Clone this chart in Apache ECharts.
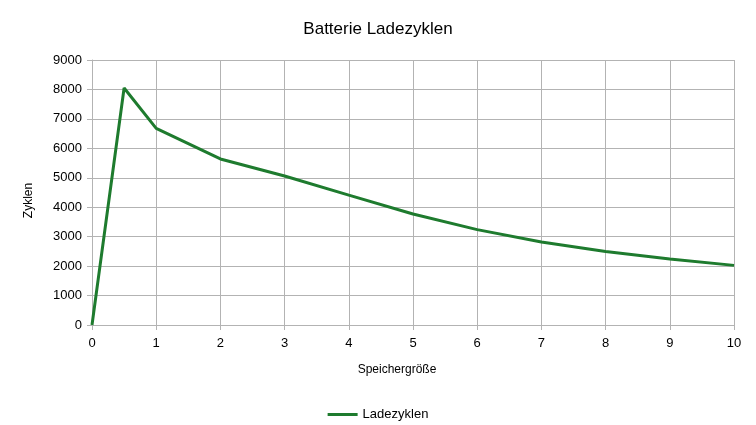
<!DOCTYPE html>
<html>
<head>
<meta charset="utf-8">
<script src="https://cdn.jsdelivr.net/npm/echarts@6/dist/echarts.min.js"></script>
<style>html,body{margin:0;padding:0;background:#fff}#c{width:756px;height:425px}</style>
</head>
<body>
<div id="c"></div>
<script>
const xValues = [0, 0.5, 1, 2, 3, 4, 5, 6, 7, 8, 9, 10];
const cycles = [0, 8050, 6680, 5640, 5060, 4410, 3770, 3240, 2820, 2495, 2240, 2025];
const seriesName = 'Ladezyklen';
const titleText = 'Batterie Ladezyklen';
const xAxisName = 'Speichergröße';
const yAxisName = 'Zyklen';

const chart = echarts.init(document.getElementById('c'), null, {renderer: 'canvas'});
const gridColor = '#b3b3b3';
const font = '"Liberation Sans", Arial, sans-serif';
chart.setOption({
  animation: false,
  textStyle: {fontFamily: font},
  title: {text: titleText, left: 'center', top: 16, textStyle: {fontFamily: font, fontSize: 17, fontWeight: 'normal', color: '#000'}},
  grid: {left: 92, right: 22, top: 60, bottom: 100},
  legend: {top: 403, left: 'center', icon: 'rect', itemWidth: 30, itemHeight: 3, itemGap: 5,
    textStyle: {fontFamily: font, fontSize: 13, color: '#000'}, data: [seriesName]},
  xAxis: {type: 'value', min: 0, max: 10, interval: 1,
    name: xAxisName, nameLocation: 'middle', nameGap: 39,
    nameTextStyle: {fontFamily: font, fontSize: 12, color: '#000', padding: [0, 32, 0, 0]},
    axisLine: {show: true, onZero: false, lineStyle: {color: gridColor}},
    axisTick: {show: true, length: 5, lineStyle: {color: gridColor}},
    axisLabel: {fontFamily: font, fontSize: 13, color: '#000', margin: 12},
    splitLine: {show: true, lineStyle: {color: gridColor, width: 1}}},
  yAxis: {type: 'value', min: 0, max: 9000, interval: 1000,
    name: yAxisName, nameLocation: 'middle', nameGap: 57, nameRotate: 90,
    nameTextStyle: {fontFamily: font, fontSize: 12, color: '#000', padding: [0, 16, 0, 0]},
    axisLine: {show: true, lineStyle: {color: gridColor}},
    axisTick: {show: true, length: 5, lineStyle: {color: gridColor}},
    axisLabel: {fontFamily: font, fontSize: 13, color: '#000', margin: 10, formatter: v => String(v)},
    splitLine: {show: true, lineStyle: {color: gridColor, width: 1}}},
  series: [{
    name: seriesName, type: 'line',
    data: xValues.map((x, i) => [x, cycles[i]]),
    symbol: 'none', smooth: false,
    lineStyle: {color: '#1e7b2e', width: 3},
    itemStyle: {color: '#1e7b2e'}
  }]
});
</script>
</body>
</html>
